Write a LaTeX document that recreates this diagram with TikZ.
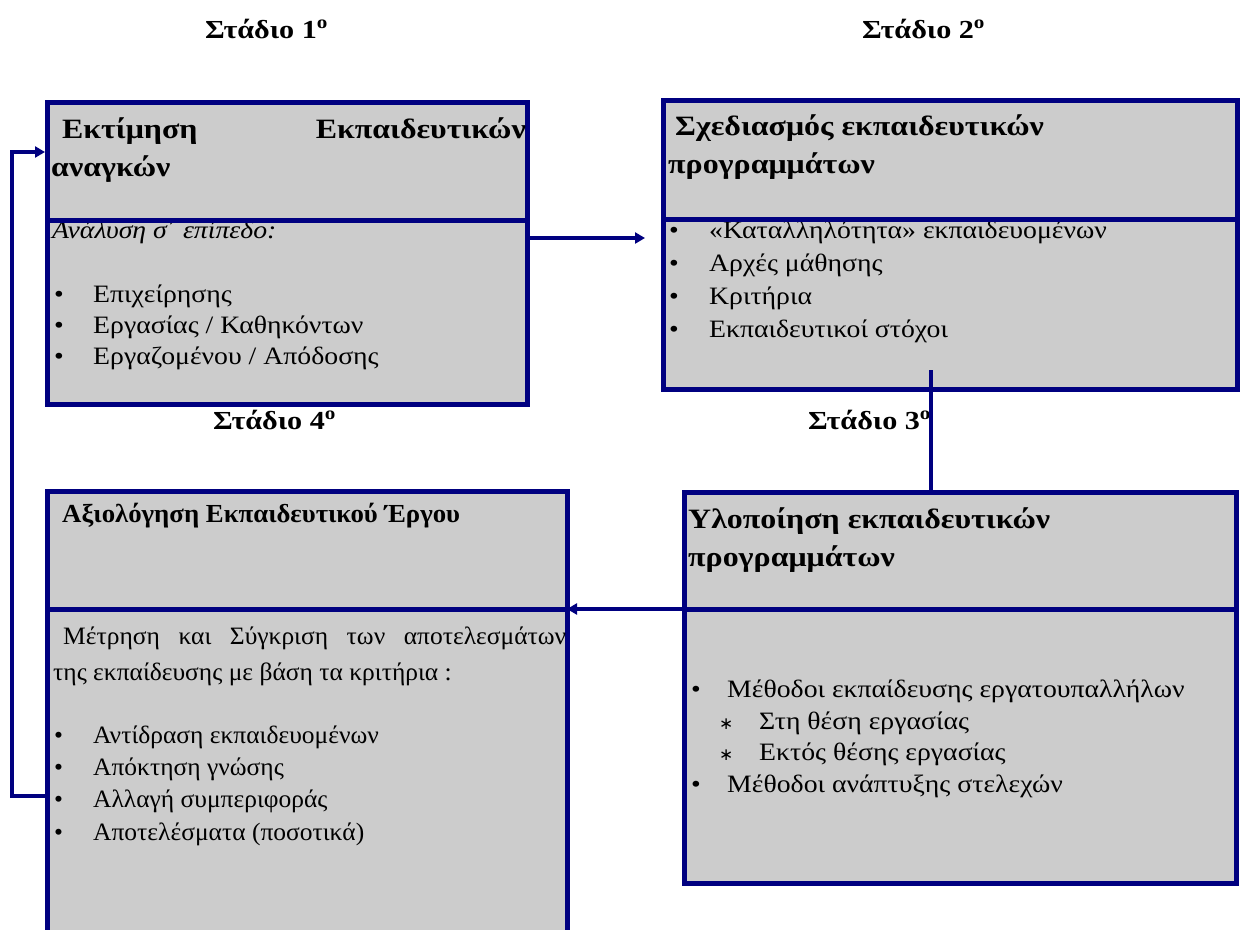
\documentclass[tikz,border=0pt]{standalone}
\usepackage{fontspec}
\setmainfont{Liberation Serif}
\newfontfamily\stagefont[FakeStretch=1.16]{Liberation Serif}
\newfontfamily\headfont[FakeStretch=1.14]{Liberation Serif}
\newfontfamily\panelfont[FakeStretch=1.11]{Liberation Serif}
\newfontfamily\evalheadfont[FakeStretch=1.03]{Liberation Serif}
\newfontfamily\evalfont[FakeStretch=1.02]{Liberation Serif}
\newfontfamily\symfont{DejaVu Sans}
\usetikzlibrary{arrows.meta}
\definecolor{navy}{RGB}{0,0,128}
\definecolor{panel}{RGB}{204,204,204}

\begin{document}
\begin{tikzpicture}[x=1pt,y=-1pt,
  panelbox/.style={draw=navy, fill=panel, line width=5pt, inner sep=0pt, outer sep=0pt, anchor=north west},
  divider/.style={draw=navy, line width=5pt},
  flow/.style={draw=navy, line width=4pt, -{Triangle[length=10pt,width=11pt]}},
  link/.style={draw=navy, line width=4pt},
  txt/.style={anchor=base west, inner sep=0pt},
  stage/.style={txt, font=\stagefont\fontsize{26}{30}\selectfont\bfseries},
  title/.style={txt, font=\headfont\fontsize{28}{32}\selectfont\bfseries},
  body/.style={txt, font=\panelfont\fontsize{25}{30}\selectfont},
  ebody/.style={txt, font=\evalfont\fontsize{25}{30}\selectfont},
  etitle/.style={txt, font=\evalheadfont\fontsize{26}{30}\selectfont\bfseries},
  star/.style={txt, font=\symfont\fontsize{17}{20}\selectfont},
]
\clip (0,0) rectangle (1241,929);
\fill[white] (0,0) rectangle (1241,929);

% stage headings
\node[stage] (s1) at (205,38) {Στάδιο 1\textsuperscript{o}};
\node[stage] (s2) at (862,38) {Στάδιο 2\textsuperscript{o}};
\node[stage] (s4) at (213,429) {Στάδιο 4\textsuperscript{o}};
\node[stage] (s3) at (808,429) {Στάδιο 3\textsuperscript{o}};

% the four panels
\node[panelbox, minimum width=480pt, minimum height=302pt] (b1) at (47,102) {};
\node[panelbox, minimum width=574pt, minimum height=289pt] (b2) at (663,100) {};
\node[panelbox, minimum width=552pt, minimum height=391pt] (b3) at (684,492) {};
\node[panelbox, minimum width=520pt, minimum height=470pt] (b4) at (47,491) {};

% panel 1: needs assessment
\node[title] (t1a) at (62,138) {Εκτίμηση};
\node[title, anchor=base east] (t1b) at (526,138) {Εκπαιδευτικών};
\node[title] (t1c) at (51,176) {αναγκών};
\node[body, font=\panelfont\fontsize{25}{30}\selectfont\itshape] (i1) at (52,238) {Ανάλυση σ΄ επίπεδο:};
\foreach \txt [count=\i] in {Επιχείρησης, Εργασίας / Καθηκόντων, Εργαζομένου / Απόδοσης} {
  \node[body] (p1dot\i) at (54,271+31*\i) {•};
  \node[body] (p1item\i) at (93,271+31*\i) {\txt};
}

% panel 2: programme design
\node[title] (t2a) at (675,135) {Σχεδιασμός εκπαιδευτικών};
\node[title] (t2b) at (668,173) {προγραμμάτων};
\foreach \txt [count=\i] in {«Καταλληλότητα» εκπαιδευομένων, Αρχές μάθησης, Κριτήρια, Εκπαιδευτικοί στόχοι} {
  \node[body] (p2dot\i) at (669,205+33*\i) {•};
  \node[body] (p2item\i) at (709,205+33*\i) {\txt};
}

% panel 3: implementation
\node[title] (t3a) at (688,528) {Υλοποίηση εκπαιδευτικών};
\node[title] (t3b) at (688,566) {προγραμμάτων};
\node[body] (p3dot1) at (691,697) {•};
\node[body] (p3item1) at (727,697) {Μέθοδοι εκπαίδευσης εργατουπαλλήλων};
\node[star] (p3star1) at (719,729) {∗};
\node[body] (p3sub1) at (759,729) {Στη θέση εργασίας};
\node[star] (p3star2) at (719,760) {∗};
\node[body] (p3sub2) at (759,760) {Εκτός θέσης εργασίας};
\node[body] (p3dot2) at (691,792) {•};
\node[body] (p3item2) at (727,792) {Μέθοδοι ανάπτυξης στελεχών};

% panel 4: evaluation
\node[etitle] (t4) at (62,522) {Αξιολόγηση Εκπαιδευτικού Έργου};
\node[ebody] (m1) at (63,644) {\makebox[503pt][s]{Μέτρηση και Σύγκριση των αποτελεσμάτων}};
\node[ebody] (m2) at (53,680) {της εκπαίδευσης με βάση τα κριτήρια :};
\foreach \txt [count=\i] in {Αντίδραση εκπαιδευομένων, Απόκτηση γνώσης, Αλλαγή συμπεριφοράς, Αποτελέσματα (ποσοτικά)} {
  \node[ebody] (p4dot\i) at (54,711+32.3*\i) {•};
  \node[ebody] (p4item\i) at (93,711+32.3*\i) {\txt};
}

% header dividers
\coordinate (d1) at (0,220);
\coordinate (d2) at (0,219);
\coordinate (d34) at (0,609);
\draw[divider] (b1.west |- d1) -- (b1.east |- d1);
\draw[divider] (b2.west |- d2) -- (b2.east |- d2);
\draw[divider] (b3.west |- d34) -- (b3.east |- d34);
\draw[divider] (b4.west |- d34) -- (b4.east |- d34);

% connectors
\coordinate (a12) at (0,238);
\draw[flow] (b1.east |- a12) -- ([xshift=-18pt]b2.west |- a12);
\coordinate (v23) at (931,370);
\draw[link] (v23) -- (v23 |- b3.north);
\draw[flow] (b3.west |- d34) -- (b4.east |- d34);
\coordinate (fb) at (0,796);
\coordinate (fb2) at (0,152);
\draw[flow, shorten >=2pt] (b4.west |- fb) -- ++(-35,0) |- (b1.west |- fb2);
\end{tikzpicture}
\end{document}
